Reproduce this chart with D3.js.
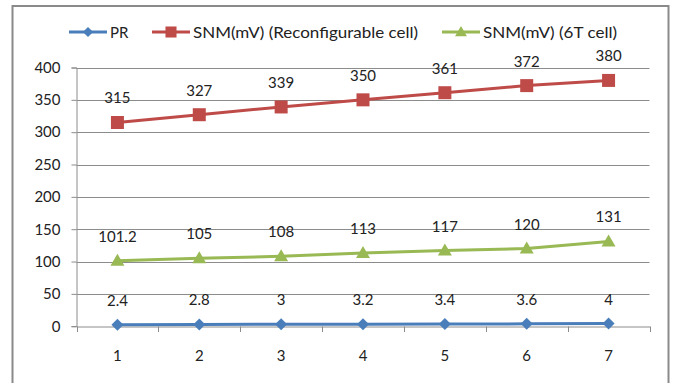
<!DOCTYPE html>
<html>
<head>
<meta charset="utf-8">
<script src="https://cdn.jsdelivr.net/npm/d3@7"></script>
<style>
  body { margin: 0; background: #fff; }
  #chart { width: 673px; height: 383px; }
  text { font-family: Lato, "Liberation Sans", sans-serif; fill: #222; }
</style>
</head>
<body>
<div id="chart"></div>
<script>
const categories = ["1", "2", "3", "4", "5", "6", "7"];
const prValues = [2.4, 2.8, 3, 3.2, 3.4, 3.6, 4];
const snmReconfig = [315, 327, 339, 350, 361, 372, 380];
const snm6T = [101.2, 105, 108, 113, 117, 120, 131];
const yTicks = [0, 50, 100, 150, 200, 250, 300, 350, 400];

const seriesNames = ["PR", "SNM(mV) (Reconfigurable cell)", "SNM(mV) (6T cell)"];

const width = 673;
const height = 383;
const margin = {top: 67.5, left: 76.5, right: 23.5, bottom: 56.5};

const canvas = d3.select("#chart")
    .append("svg")
    .attr("width", width)
    .attr("height", height);

// outer frame
canvas.append("rect")
    .attr("x", 12.5)
    .attr("y", 6)
    .attr("width", 656)
    .attr("height", 400)
    .attr("fill", "none")
    .attr("stroke", "#8a8a8a")
    .attr("stroke-width", 2);

const series = [
    {name: seriesNames[0], values: prValues, color: "#4a7ebb", marker: "diamond"},
    {name: seriesNames[1], values: snmReconfig, color: "#be4b48", marker: "square"},
    {name: seriesNames[2], values: snm6T, color: "#98b954", marker: "triangle"}
];

const xScale = d3.scaleBand()
    .domain(categories)
    .range([margin.left, width - margin.right]);

const yScale = d3.scaleLinear()
    .domain([0, 400])
    .range([height - margin.bottom - 0.3, margin.top]);

// gridlines
canvas.append("g")
    .selectAll("line")
    .data(yTicks.slice(1))
    .enter()
    .append("line")
        .attr("x1", margin.left)
        .attr("x2", width - margin.right)
        .attr("y1", function(d) { return Math.round(yScale(d)) + 0.5; })
        .attr("y2", function(d) { return Math.round(yScale(d)) + 0.5; })
        .attr("stroke", "#8c8c8c")
        .attr("stroke-width", 1);

// y axis
const yAxis = canvas.append("g")
    .attr("transform", `translate(${margin.left},0)`)
    .call(d3.axisLeft(yScale).tickValues(yTicks).tickSize(5).tickPadding(11));

// x axis
const xAxis = canvas.append("g")
    .attr("transform", `translate(0,${Math.round(yScale(0)) + 0.5})`)
    .call(d3.axisBottom(xScale).tickSize(0).tickPadding(24));

// x tick marks between categories
canvas.append("g")
    .selectAll("line")
    .data(d3.range(categories.length + 1))
    .enter()
    .append("line")
        .attr("x1", function(i) { return Math.round(margin.left + i * xScale.bandwidth()) + 0.5; })
        .attr("x2", function(i) { return Math.round(margin.left + i * xScale.bandwidth()) + 0.5; })
        .attr("y1", Math.round(yScale(0)) + 0.5)
        .attr("y2", Math.round(yScale(0)) + 6)
        .attr("stroke", "#8c8c8c");

canvas.selectAll(".domain").attr("stroke", "#8c8c8c");
canvas.selectAll(".tick line").attr("stroke", "#8c8c8c");
canvas.selectAll(".tick text")
    .attr("font-size", 15)
    .attr("font-family", "Lato, 'Liberation Sans', sans-serif")
    .attr("fill", "#222");

function markerPath(type) {
    if (type === "diamond") return "M0,-6L6,0L0,6L-6,0Z";
    if (type === "square") return "M-6.5,-6.5H6.5V6.5H-6.5Z";
    return "M0,-7L7,5H-7Z";
}

const line = d3.line()
    .x(function(d, i) { return xScale(categories[i]) + xScale.bandwidth() / 2; })
    .y(function(d) { return yScale(d); });

series.forEach(function(s) {
    const g = canvas.append("g");

    g.append("path")
        .datum(s.values)
        .attr("d", line)
        .attr("fill", "none")
        .attr("stroke", s.color)
        .attr("stroke-width", 3);

    g.selectAll("path.marker")
        .data(s.values)
        .enter()
        .append("path")
            .attr("class", "marker")
            .attr("transform", function(d, i) {
                return `translate(${xScale(categories[i]) + xScale.bandwidth() / 2},${yScale(d)})`;
            })
            .attr("d", markerPath(s.marker))
            .attr("fill", s.color);

    g.selectAll("text")
        .data(s.values)
        .enter()
        .append("text")
            .attr("x", function(d, i) { return xScale(categories[i]) + xScale.bandwidth() / 2; })
            .attr("y", function(d) { return yScale(d) - 19; })
            .attr("text-anchor", "middle")
            .attr("font-size", 15)
            .text(function(d) { return d; });
});

// legend
const legendX = [69, 152, 442];
const legendText = [38, 38, 38];
const legendWidth = [null, 225, 134];

series.forEach(function(s, i) {
    const lg = canvas.append("g")
        .attr("transform", `translate(${legendX[i]},32)`);

    lg.append("line")
        .attr("x1", 0)
        .attr("x2", 38)
        .attr("stroke", s.color)
        .attr("stroke-width", 3);

    lg.append("path")
        .attr("transform", "translate(19,0) scale(0.85)")
        .attr("d", markerPath(s.marker))
        .attr("fill", s.color);

    const t = lg.append("text")
        .attr("x", legendText[i] + 3)
        .attr("y", 5.5)
        .attr("font-size", 15)
        .text(s.name);
    if (legendWidth[i]) {
        t.attr("textLength", legendWidth[i]).attr("lengthAdjust", "spacingAndGlyphs");
    }
});
</script>
</body>
</html>
